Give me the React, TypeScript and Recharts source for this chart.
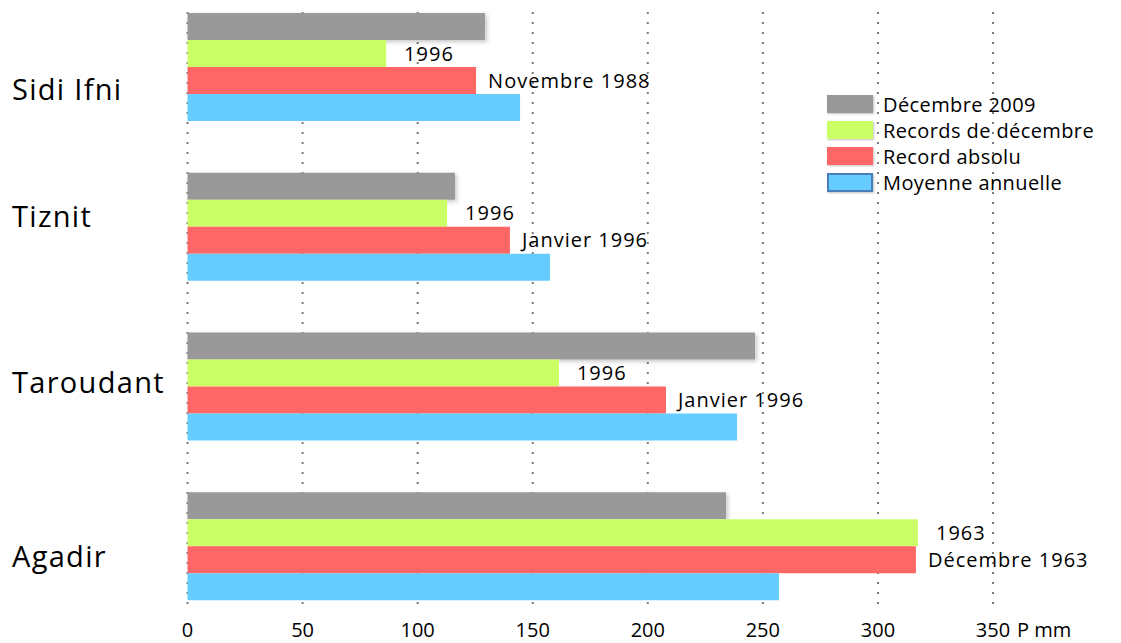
import React from 'react';
import {
  BarChart,
  Bar,
  XAxis,
  YAxis,
  CartesianGrid,
  Legend,
  LabelList,
} from 'recharts';

// Précipitations (mm) par station
const stations = ['Sidi Ifni', 'Tiznit', 'Taroudant', 'Agadir'];
const decembre2009 = [129.3, 116.2, 246.6, 234];
const recordsDecembre = [86.3, 112.8, 161.4, 317.4];
const recordAbsolu = [125.4, 140.1, 207.9, 316.5];
const moyenneAnnuelle = [144.5, 157.5, 238.8, 257];

// dates des records, affichées au bout des barres
const anneesRecordDecembre = ['1996', '1996', '1996', '1963'];
const datesRecordAbsolu = ['Novembre 1988', 'Janvier 1996', 'Janvier 1996', 'Décembre 1963'];

const xTicks = [0, 50, 100, 150, 200, 250, 300, 350];

const series = [
  { key: 'dec2009', name: 'Décembre 2009', color: '#999999' },
  { key: 'recDec', name: 'Records de décembre', color: '#CCFF66' },
  { key: 'recAbs', name: 'Record absolu', color: '#FF6666' },
  { key: 'moyenne', name: 'Moyenne annuelle', color: '#66CCFF' },
];

const rows = stations.map((station, i) => ({
  station,
  dec2009: decembre2009[i],
  recDec: recordsDecembre[i],
  recAbs: recordAbsolu[i],
  moyenne: moyenneAnnuelle[i],
  recDecLabel: anneesRecordDecembre[i],
  recAbsLabel: datesRecordAbsolu[i],
}));

const FONT = '"Open Sans", "Noto Sans", sans-serif';

// the station names sit a bit off the group centre
const stationLabelDy = [33, 0, 7, 21];

function StationTick(props: any) {
  const { y, payload, index } = props;
  return (
    <text
      x={4}
      y={y + stationLabelDy[index]}
      fontSize={29}
      letterSpacing={1.3}
      fontFamily={FONT}
      fill="#000"
    >
      {payload.value}
    </text>
  );
}

function ValueTick(props: any) {
  const { x, y, payload } = props;
  return (
    <g>
      <text x={x} y={y + 11} textAnchor="middle" fontSize={20} fontFamily={FONT} fill="#000">
        {payload.value}
      </text>
      {payload.value === 350 && (
        <text x={x + 24} y={y + 11} fontSize={20} fontFamily={FONT} fill="#000">
          P  mm
        </text>
      )}
    </g>
  );
}

function GridLine(props: any) {
  return (
    <line
      key={props.key}
      x1={props.x1}
      x2={props.x2}
      y1={4}
      y2={600}
      stroke="#7a7a7a"
      strokeWidth={2}
      strokeDasharray="2 8"
    />
  );
}

function LegendBox() {
  return (
    <div style={{ fontFamily: FONT, fontSize: 20, letterSpacing: 0.4, color: '#000' }}>
      {series.map((s) => (
        <div key={s.key} style={{ display: 'flex', alignItems: 'center', height: 26 }}>
          <span
            style={{
              display: 'inline-block',
              width: s.key === 'moyenne' ? 42 : 46,
              height: s.key === 'moyenne' ? 15 : 18,
              background: s.color,
              border: s.key === 'moyenne' ? '2px solid #4A7EBB' : 'none',
              boxShadow: '1px 1px 2px rgba(0,0,0,0.25)',
              marginRight: 10,
            }}
          />
          <span>{s.name}</span>
        </div>
      ))}
    </div>
  );
}

export default function App() {
  return (
    <div style={{ width: 1105, height: 635 }}>
      <svg width={0} height={0} style={{ position: 'absolute' }}>
        <defs>
          <filter id="barShadow" x="-5%" y="-20%" width="115%" height="160%">
            <feDropShadow dx={2} dy={2} stdDeviation={2} floodColor="#000" floodOpacity={0.22} />
          </filter>
        </defs>
      </svg>
      <BarChart
        layout="vertical"
        width={1105}
        height={635}
        data={rows}
        margin={{ top: -21, right: 120, bottom: 0, left: 0 }}
        barGap={0}
      >
        <CartesianGrid horizontal={false} vertical={GridLine} />
        <XAxis
          type="number"
          domain={[0, 350]}
          ticks={xTicks}
          interval={0}
          axisLine={false}
          tickLine={false}
          tickSize={0}
          tickMargin={0}
          height={17}
          tick={<ValueTick />}
        />
        <YAxis
          type="category"
          dataKey="station"
          width={179.5}
          axisLine={false}
          tickLine={false}
          tick={<StationTick />}
        />
        <Legend
          layout="vertical"
          align="center"
          verticalAlign="middle"
          wrapperStyle={{ top: 83, left: 819, width: 290 }}
          content={() => <LegendBox />}
        />
        <Bar
          dataKey="dec2009"
          name="Décembre 2009"
          fill="#999999"
          barSize={27}
          filter="url(#barShadow)"
          isAnimationActive={false}
        />
        <Bar dataKey="recDec" name="Records de décembre" fill="#CCFF66" barSize={27} isAnimationActive={false}>
          <LabelList
            dataKey="recDecLabel"
            position="right"
            offset={18}
            fontSize={20}
            letterSpacing={1}
            fontFamily={FONT}
            fill="#000"
          />
        </Bar>
        <Bar dataKey="recAbs" name="Record absolu" fill="#FF6666" barSize={27} isAnimationActive={false}>
          <LabelList
            dataKey="recAbsLabel"
            position="right"
            offset={12}
            fontSize={20}
            letterSpacing={1}
            fontFamily={FONT}
            fill="#000"
          />
        </Bar>
        <Bar dataKey="moyenne" name="Moyenne annuelle" fill="#66CCFF" barSize={27} isAnimationActive={false} />
      </BarChart>
    </div>
  );
}
